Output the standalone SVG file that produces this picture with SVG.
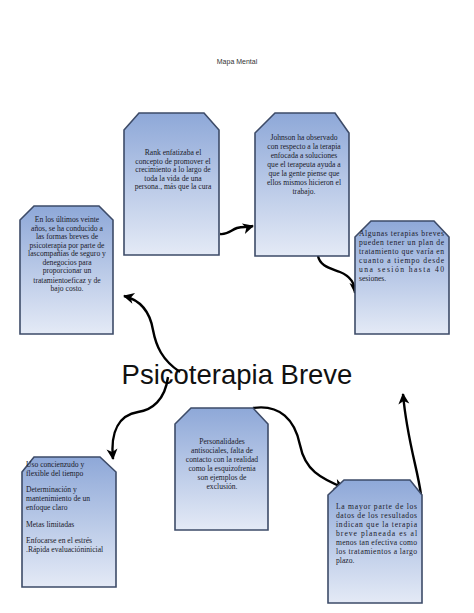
<svg xmlns="http://www.w3.org/2000/svg" width="474" height="613" viewBox="0 0 474 613">
<style>
.box{fill:url(#g);stroke:#3d4b68;stroke-width:1.6}
.t{font-family:"Liberation Serif","Times New Roman",serif;font-size:7.6px;fill:#1a1a2a}
.c{text-anchor:middle}
.conn{fill:none;stroke:#000;stroke-width:2.4;marker-end:url(#ah)}
</style>
<defs>
<linearGradient id="g" x1="0" y1="0" x2="0" y2="1">
<stop offset="0" stop-color="#8ea8d8"/>
<stop offset="1" stop-color="#e4eaf6"/>
</linearGradient>
<marker id="ah" markerUnits="userSpaceOnUse" markerWidth="14" markerHeight="14" refX="11" refY="7" orient="auto">
<path d="M1,1.5 L12,7 L1,12.5 L4,7 Z" fill="#000"/>
</marker>
</defs>
<text x="237" y="64" text-anchor="middle" font-family="Liberation Sans, Arial, sans-serif" font-size="7px" fill="#333">Mapa Mental</text>
<text x="237" y="384" text-anchor="middle" font-family="Liberation Sans, Arial, sans-serif" font-size="27.5px" fill="#111">Psicoterapia Breve</text>
<g id="connectors">
<path class="conn" d="M220,234 C228,235 231,230 237,228 C244,226 246,228 253,226"/>
<path class="conn" d="M318,256 C320,266 330,268 340,272 C350,276 355,282 355,293"/>
<path class="conn" d="M180,372 C162,360 156,346 153,330 C150,312 140,300 124,296"/>
<path class="conn" d="M168,377 C165,400 152,410 138,412 C120,415 110,430 113,459"/>
<path class="conn" d="M253,408 C280,404 295,420 300,445 C305,470 320,478 344,488"/>
<path class="conn" d="M421,495 C418,470 407,440 403,394"/>
</g>
<g id="n1">
<path class="box" d="M124,130 L139,113 L204,113 L219,130 V255 H124 Z"/>
<text class="t c" x="173"><tspan x="173" y="155">Rank enfatizaba el</tspan><tspan x="173" y="163.5">concepto de promover el</tspan><tspan x="173" y="172">crecimiento a lo largo de</tspan><tspan x="173" y="180.5">toda la vida de una</tspan><tspan x="173" y="189">persona., más que la cura</tspan></text>
</g>
<g id="n2">
<path class="box" d="M255,133 L275,113 L335,113 L349,133 V256 H255 Z"/>
<text class="t c" x="304"><tspan x="304" y="140">Johnson ha observado</tspan><tspan x="304" y="149">con respecto a la terapia</tspan><tspan x="304" y="158">enfocada a soluciones</tspan><tspan x="304" y="167">que el terapeuta ayuda a</tspan><tspan x="304" y="176">que la gente piense que</tspan><tspan x="304" y="185">ellos mismos hicieron el</tspan><tspan x="304" y="194">trabajo.</tspan></text>
</g>
<g id="n3">
<path class="box" d="M20,220 L34,206 L99,206 L113,220 V334 H20 Z"/>
<text class="t c" x="67"><tspan x="67" y="222">En los últimos veinte</tspan><tspan x="67" y="230.5">años, se ha conducido a</tspan><tspan x="67" y="239">las formas  breves de</tspan><tspan x="67" y="247.5">psicoterapia por parte de</tspan><tspan x="67" y="256">lascompañías de seguro y</tspan><tspan x="67" y="264.5">denegocios para</tspan><tspan x="67" y="273">proporcionar un</tspan><tspan x="67" y="282.5">tratamientoeficaz y de</tspan><tspan x="67" y="291">bajo costo.</tspan></text>
</g>
<g id="n4">
<path class="box" d="M355,237 L371,221 L434,221 L449,237 V334 H355 Z"/>
<text class="t"><tspan x="359" y="236" textLength="85" lengthAdjust="spacing">Algunas terapias breves</tspan><tspan x="359" y="245" textLength="85" lengthAdjust="spacing">pueden tener un plan de</tspan><tspan x="359" y="254" textLength="85" lengthAdjust="spacing">tratamiento que varía en</tspan><tspan x="359" y="263" textLength="85" lengthAdjust="spacing">cuanto a tiempo desde</tspan><tspan x="359" y="272" textLength="85" lengthAdjust="spacing">una sesión hasta 40</tspan><tspan x="359" y="281">sesiones.</tspan></text>
</g>
<g id="n5">
<path class="box" d="M22,472 L34,457 L100,457 L116,472 V587 H22 Z"/>
<text class="t" font-size="8.2px"><tspan x="26" y="467">Uso concienzudo y</tspan><tspan x="26" y="476">flexible del tiempo</tspan><tspan x="26" y="492">Determinación y</tspan><tspan x="26" y="501">mantenimiento de un</tspan><tspan x="26" y="510">enfoque claro</tspan><tspan x="26" y="527">Metas limitadas</tspan><tspan x="26" y="543">Enfocarse en el estrés</tspan><tspan x="26" y="552">.Rápida evaluacióninicial</tspan></text>
</g>
<g id="n6">
<path class="box" d="M175,424 L191,408 L253,408 L268,424 V530 H175 Z"/>
<text class="t c" x="222"><tspan x="222" y="444">Personalidades</tspan><tspan x="222" y="453">antisociales, falta de</tspan><tspan x="222" y="462">contacto con la realidad</tspan><tspan x="222" y="471">como la esquizofrenia</tspan><tspan x="222" y="480">son ejemplos de</tspan><tspan x="222" y="489">exclusión.</tspan></text>
</g>
<g id="n7">
<path class="box" d="M328,495 L344,480 L410,480 L422,495 V603 H328 Z"/>
<text class="t"><tspan x="336" y="509" textLength="81" lengthAdjust="spacing">La mayor parte de los</tspan><tspan x="336" y="518" textLength="81" lengthAdjust="spacing">datos de los resultados</tspan><tspan x="336" y="527" textLength="81" lengthAdjust="spacing">indican que la terapia</tspan><tspan x="336" y="536" textLength="81" lengthAdjust="spacing">breve planeada es al</tspan><tspan x="336" y="545" textLength="81" lengthAdjust="spacing">menos tan efectiva como</tspan><tspan x="336" y="554" textLength="81" lengthAdjust="spacing">los tratamientos a largo</tspan><tspan x="336" y="563">plazo.</tspan></text>
</g>
</svg>
